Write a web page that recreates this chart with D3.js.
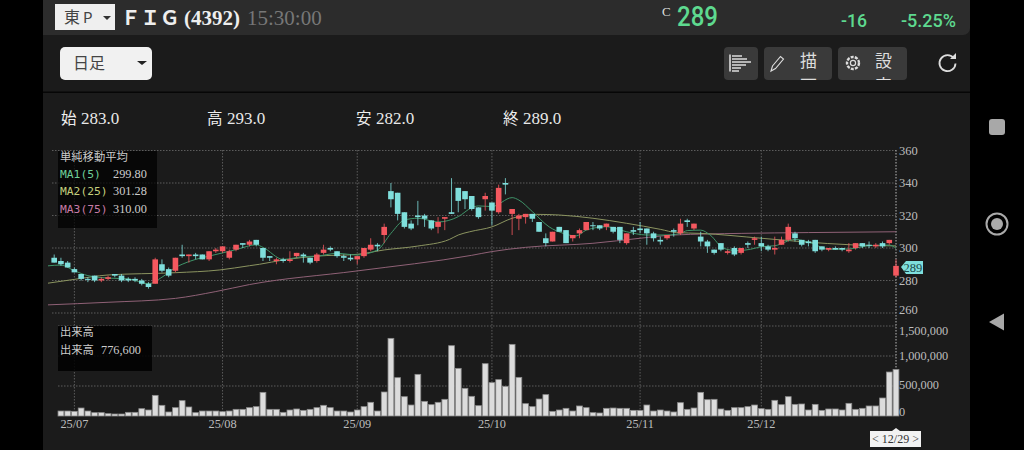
<!DOCTYPE html>
<html><head><meta charset="utf-8">
<script src="https://cdn.jsdelivr.net/npm/d3@7/dist/d3.min.js"></script>
<style>html,body{margin:0;padding:0;background:#000;overflow:hidden}svg{display:block}</style>
</head><body><svg id="c" width="1024" height="450"></svg>
<script>
const opens=[294,292,291,287,284,281,283,280,281,284,
283,281,281,280,278,278,290,287,286,296,
295,296,296,293,298,298,294,299,303,302,
305,300,295,292,293,292,295,296,294,292,
297,300,298,295,294,293,295,299,302,308,
335,334,322,315,320,320,317,313,318,322,
337,335,332,325,330,328,322,340,321,318,
319,321,316,306,304,313,311,306,309,311,
314,314,313,313,313,303,311,312,312,309,
305,306,311,309,317,312,307,304,299,303,
297,300,297,303,305,303,301,299,302,305,
309,305,304,305,301,299,300,300,298,300,
303,302,301,303,303,283];
const highs=[296,294,292,288,284,282,283,282,283,284,
284,282,282,281,279,294,293,288,294,302,
296,297,296,298,300,301,299,302,303,305,
305,300,295,294,294,298,297,297,294,297,
302,301,298,296,296,295,300,306,303,315,
340,334,322,317,329,321,317,319,319,343,
337,335,332,325,334,328,339,343,324,321,
321,321,316,309,310,313,311,308,312,316,
316,314,315,313,313,309,313,316,312,310,
307,308,312,318,318,315,310,305,299,303,
299,301,300,304,307,307,302,307,307,315,
310,305,305,305,301,300,301,300,303,303,
303,304,303,304,305,293];
const lows=[291,289,288,285,280,279,279,279,280,282,
279,279,279,277,275,278,285,282,285,294,
291,293,293,292,297,297,293,298,300,301,
301,292,292,290,291,291,294,291,290,291,
296,298,294,292,292,290,294,298,298,303,
325,317,312,311,314,313,311,309,311,321,
322,324,323,318,323,314,321,333,308,311,
315,316,310,301,304,310,303,304,306,311,
311,311,311,309,303,302,308,309,302,304,
302,305,307,308,313,311,301,297,296,298,
296,295,296,300,302,298,298,296,302,304,
304,301,301,297,298,298,299,298,297,299,
300,300,300,300,302,282];
const closes=[291,290,288,285,281,281,280,281,282,283,
280,280,280,278,276,293,286,283,294,295,
296,295,293,298,299,301,298,302,302,304,
302,294,294,293,292,293,297,295,291,296,
299,299,295,294,293,295,300,302,301,313,
330,321,313,312,319,318,312,316,319,321,
329,330,324,319,332,323,337,339,324,320,
321,318,310,303,310,310,303,308,311,316,
314,312,315,310,305,309,310,311,309,306,
304,308,310,315,316,315,304,301,297,299,
298,296,300,302,306,301,299,300,305,313,
306,302,303,298,299,300,299,299,299,303,
301,302,302,301,305,289];
const volumes=[0,83,83,78,133,83,56,56,39,33,
33,61,61,122,100,344,178,67,139,256,
150,56,83,83,83,72,83,111,111,139,
156,394,111,111,61,100,117,94,111,139,
178,139,83,83,67,100,156,228,83,400,
1294,639,322,183,694,244,189,228,278,1172,
794,461,328,172,872,556,606,494,1194,644,
206,156,283,356,78,100,128,83,167,139,
56,50,128,133,128,128,94,94,183,83,
100,83,67,222,111,133,394,272,278,117,
94,139,139,156,183,122,111,261,189,322,
194,200,100,194,94,117,117,100,211,111,
128,167,167,300,733,776.6];
const ma1Days=[-1,1,3,5,8,11,14,16,18,19,21,23,25,27,30,31,34,37,39,42,45,48,50,52,54,57,60,62,63,65,68,69,71,73.5,75.6,77.5,79,82,85,88,91,93,94,96,97.4,99.4,101.4,103.4,105,107,110,112.5,115,118,121,124,125];
const ma1=[289,289.5,286,283,281.5,281,278,282,288,290,293,295,297,299,302,300.4,293,294.7,295,296.7,295.7,298.8,309,317.2,318.3,316,319.3,324.8,325.9,325.5,331,329.5,322.4,313,309,307.4,311,313.1,310,308,308,309,310.7,311,308,299.8,298.4,299.2,300.8,301.4,305.3,302.9,299.2,299.4,301.4,301.8,299.8];
const ma2Days=[-1,3,8,18,24.6,29,30.5,34,39,45,49,54,58.7,60,61.7,65,68,71.6,75,80,85,90,92.4,96,105,111,118.6,125];
const ma2=[278.3,280.7,283.4,284.8,286.5,289.1,290,292.6,295,296.1,298.8,301.2,305.3,308,310,313,318.3,320.7,320.3,318.3,315.2,311.5,309.5,309,306,303.9,301.9,301.28];
const ma3Days=[-1,8,18,24,29,45,62,65,70,80,87,92,102,112,125];
const ma3=[265,266.6,269,273.2,277.5,285.9,295.5,297.8,300.4,302.9,306,308,309,309.5,310];
const priceTicks=[360,340,320,300,280,260];
const volumeTicks=[1500000,1000000,500000,0];
const monthStarts=[3,25,45,65,87,105];
const monthLabels=["25/07","25/08","25/09","25/10","25/11","25/12"];
const ohlcLabels=[["始",283.0],["高",293.0],["安",282.0],["終",289.0]];

const serif='"Liberation Serif","Noto Sans CJK JP",serif';
const sans='"Noto Sans CJK JP","Noto Sans",sans-serif';
const mono='"DejaVu Sans Mono","Noto Sans CJK JP",monospace';
const svg=d3.select("#c");
const x=d3.scaleLinear().domain([0,125]).range([54.2,896]);
const y=d3.scaleLinear().domain([260,360]).range([313,150.5]);
const v=d3.scaleLinear().domain([0,1500]).range([416,326]);
const T=(s,px,py,size,fill,font,extra={})=>{const t=svg.append("text").attr("x",px).attr("y",py).attr("font-size",size).attr("fill",fill).attr("font-family",font).text(s);for(const k in extra)t.attr(k,extra[k]);return t;};
const R=(a,b,w,h,fill,r=0)=>svg.append("rect").attr("x",a).attr("y",b).attr("width",w).attr("height",h).attr("fill",fill).attr("rx",r);

// frame
R(43,0,927,450,"#1b1b1b");
svg.append("path").attr("d","M43 0H970V28a7 7 0 0 1 -7 7H43Z").attr("fill","#2c2c2c");
R(43,91.5,927,1.5,"#060606");
// header
R(55,4,60,26,"#efefef");
T("東",64,23,16,"#444",sans);T("P",83,23,15,"#444",sans);
svg.append("path").attr("d","M103 16h8l-4 4z").attr("fill","#333");
T("ＦＩＧ",121,25,19.5,"#eee",sans,{"font-weight":"bold"});
T("(4392)",184,24.5,21,"#eee",serif,{"font-weight":"bold"});
T("15:30:00",247,24.5,21,"#777",serif);
T("C",662,16,13,"#ddd",serif);
T("289",677,26,27,"#5ed98f",'"Roboto",sans-serif',{"font-weight":"500","textLength":41,"lengthAdjust":"spacingAndGlyphs"});
T("-16",841,27,19,"#5ed98f",'"Roboto",sans-serif',{"font-weight":"500","textLength":26,"lengthAdjust":"spacingAndGlyphs"});
T("-5.25%",901,27,19,"#5ed98f",'"Roboto",sans-serif',{"font-weight":"500","textLength":55,"lengthAdjust":"spacingAndGlyphs"});
// controls
R(60,47,92,33,"#f1f1f1",5);
T("日足",73,69,16,"#444",sans);
svg.append("path").attr("d","M137 61h10l-5 4z").attr("fill","#222");
R(724,47,34,33,"#3a3a3a",4);R(764,47,68,33,"#3a3a3a",4);R(838,47,69,33,"#3a3a3a",4);
const defs=svg.append("defs");
defs.append("clipPath").attr("id","btn").append("rect").attr("x",764).attr("y",47).attr("width",143).attr("height",33);
defs.append("clipPath").attr("id","plot").append("rect").attr("x",48).attr("y",150).attr("width",852).attr("height",170);
T("描",800,67,17,"#ddd",sans,{"clip-path":"url(#btn)"});T("画",800,91.5,17,"#ddd",sans,{"clip-path":"url(#btn)"});
T("設",875,67,17,"#ddd",sans,{"clip-path":"url(#btn)"});T("定",875,91.5,17,"#ddd",sans,{"clip-path":"url(#btn)"});
svg.append("path").attr("d","M730 54.5V71.5M732 56H742M732 59H747M732 62H751M732 65H746M732 68H741M732 71H739").attr("stroke","#ddd").attr("stroke-width",1.6).attr("fill","none");
svg.append("path").attr("d","M771 71l1.5-5 8-9.5 3 2.5-8 9.5z").attr("stroke","#ddd").attr("stroke-width",1.1).attr("fill","none");
svg.append("circle").attr("cx",853).attr("cy",63).attr("r",6).attr("stroke","#ddd").attr("stroke-width",2.4).attr("stroke-dasharray","3 1.2").attr("fill","none");
svg.append("circle").attr("cx",853).attr("cy",63).attr("r",2.6).attr("stroke","#ddd").attr("stroke-width",1.2).attr("fill","none");
svg.append("path").attr("d","M954 58.5a8 8 0 1 0 1.5 5").attr("stroke","#ddd").attr("stroke-width",1.8).attr("fill","none");
svg.append("path").attr("d","M950 59h6v-6z").attr("fill","#ddd");
// OHLC
[61,207,356,503].forEach((px,i)=>{T(ohlcLabels[i][0],px,123.5,15.5,"#eee",sans);T(ohlcLabels[i][1].toFixed(1),px+20,123.5,17,"#e8e8e8",serif);});
// grids
const dotted=s=>s.attr("stroke","#5c5c5c").attr("stroke-width",1).attr("stroke-dasharray","1.5 1.5");
dotted(svg.append("g").selectAll("line").data(priceTicks).join("line").attr("x1",52).attr("x2",896).attr("y1",d=>y(d)).attr("y2",d=>y(d)));
dotted(svg.append("g").selectAll("line").data(volumeTicks.filter(d=>d>0)).join("line").attr("x1",58).attr("x2",896).attr("y1",d=>v(d/1000)).attr("y2",d=>v(d/1000)));
dotted(svg.append("g").selectAll("line").data(monthStarts).join("line").attr("x1",d=>x(d)).attr("x2",d=>x(d)).attr("y1",150).attr("y2",416));
svg.append("line").attr("x1",896).attr("x2",896).attr("y1",150).attr("y2",368).attr("stroke","#bbb").attr("stroke-dasharray","1.5 1.5");
// moving averages
const lineOf=(days,vals,c)=>svg.append("path").attr("clip-path","url(#plot)").attr("fill","none").attr("stroke",c).attr("stroke-width",1)
 .attr("d",d3.line().x((d,i)=>x(days[i])).y(d=>y(d)).curve(d3.curveMonotoneX)(vals));
lineOf(ma3Days,ma3,"#8f6176");
lineOf(ma2Days,ma2,"#8b9460");
lineOf(ma1Days,ma1,"#3f9469");
// candles
const UP="#f4585f",DN="#7fdfdc";
const g=svg.append("g").selectAll("g").data(opens.map((o,i)=>({i,o,h:highs[i],l:lows[i],c:closes[i]}))).join("g");
g.append("line").attr("x1",d=>x(d.i)).attr("x2",d=>x(d.i)).attr("y1",d=>y(d.h)).attr("y2",d=>y(d.l)).attr("stroke",d=>d.c>d.o?UP:DN).attr("stroke-width",1).attr("stroke-opacity",.8);
g.append("rect").attr("x",d=>x(d.i)-2.8).attr("width",5.6).attr("y",d=>y(Math.max(d.o,d.c))).attr("height",d=>Math.max(1,Math.abs(y(d.o)-y(d.c)))).attr("fill",d=>d.c>d.o?UP:DN);
// volume
svg.append("g").selectAll("rect").data(volumes).join("rect").attr("x",(d,i)=>x(i)-2.9).attr("width",5.8).attr("y",d=>v(d)).attr("height",d=>416-v(d))
 .attr("fill",d=>d>0?"#dcdcdc":"none").attr("stroke",d=>d>0?"#8a8a8a":"none").attr("stroke-width",.8);
// legends
R(58,151,99,77,"rgba(0,0,0,.72)");R(58,326,94,45,"rgba(0,0,0,.85)");
T("単純移動平均",60,161,11.3,"#ccc",sans);
[["MA1(5)","#6fd09a"],["MA2(25)","#c5cf7d"],["MA3(75)","#c77ba6"]].forEach((m,i)=>T(m[0],60,178+i*17.3,11.3,m[1],mono));
["299.80","301.28","310.00"].forEach((s,i)=>T(s,113,178+i*17.3,12.3,"#ccc",serif));
T("出来高",60,336,11.3,"#ccc",sans);
T("出来高",60,354,11.3,"#ccc",sans);
T("776,600",101,354,12.3,"#ccc",serif);
// axis labels
const AX="#bdbdbd";
priceTicks.forEach(d=>{const dy={360:4,340:4,320:4,300:4,280:4,260:1}[d];T(d,899,y(d)+dy,12.5,AX,serif);});
const vDy={1500000:9,1000000:4,500000:3,0:0};
volumeTicks.forEach(d=>T(d3.format(",")(d),899,v(d/1000)+vDy[d],12.3,AX,serif));
monthStarts.forEach((d,i)=>T(monthLabels[i],x(d),428,12.3,AX,serif,{"text-anchor":"middle"}));
// last price tag
svg.append("path").attr("d","M901 267l5-6h17v13h-17z").attr("fill","#7fdfdc");
T(closes[125],903.5,271.5,12.5,"#1b4a4a",serif);
// date tag
R(870,431,51,16,"#f2f2f2");
svg.append("path").attr("d","M892 431l4-3 4 3z").attr("fill","#f2f2f2");
T("< 12/29 >",895.5,443,12,"#333",serif,{"text-anchor":"middle"});
// android nav
R(989,119,16,16,"#a8a8a8",3);
svg.append("circle").attr("cx",997).attr("cy",224).attr("r",10.5).attr("fill","none").attr("stroke","#aaa").attr("stroke-width",2);
svg.append("circle").attr("cx",997).attr("cy",224).attr("r",6).attr("fill","#aaa");
svg.append("path").attr("d","M1004 313.5V330.5L989 322Z").attr("fill","#a8a8a8");
</script></body></html>
